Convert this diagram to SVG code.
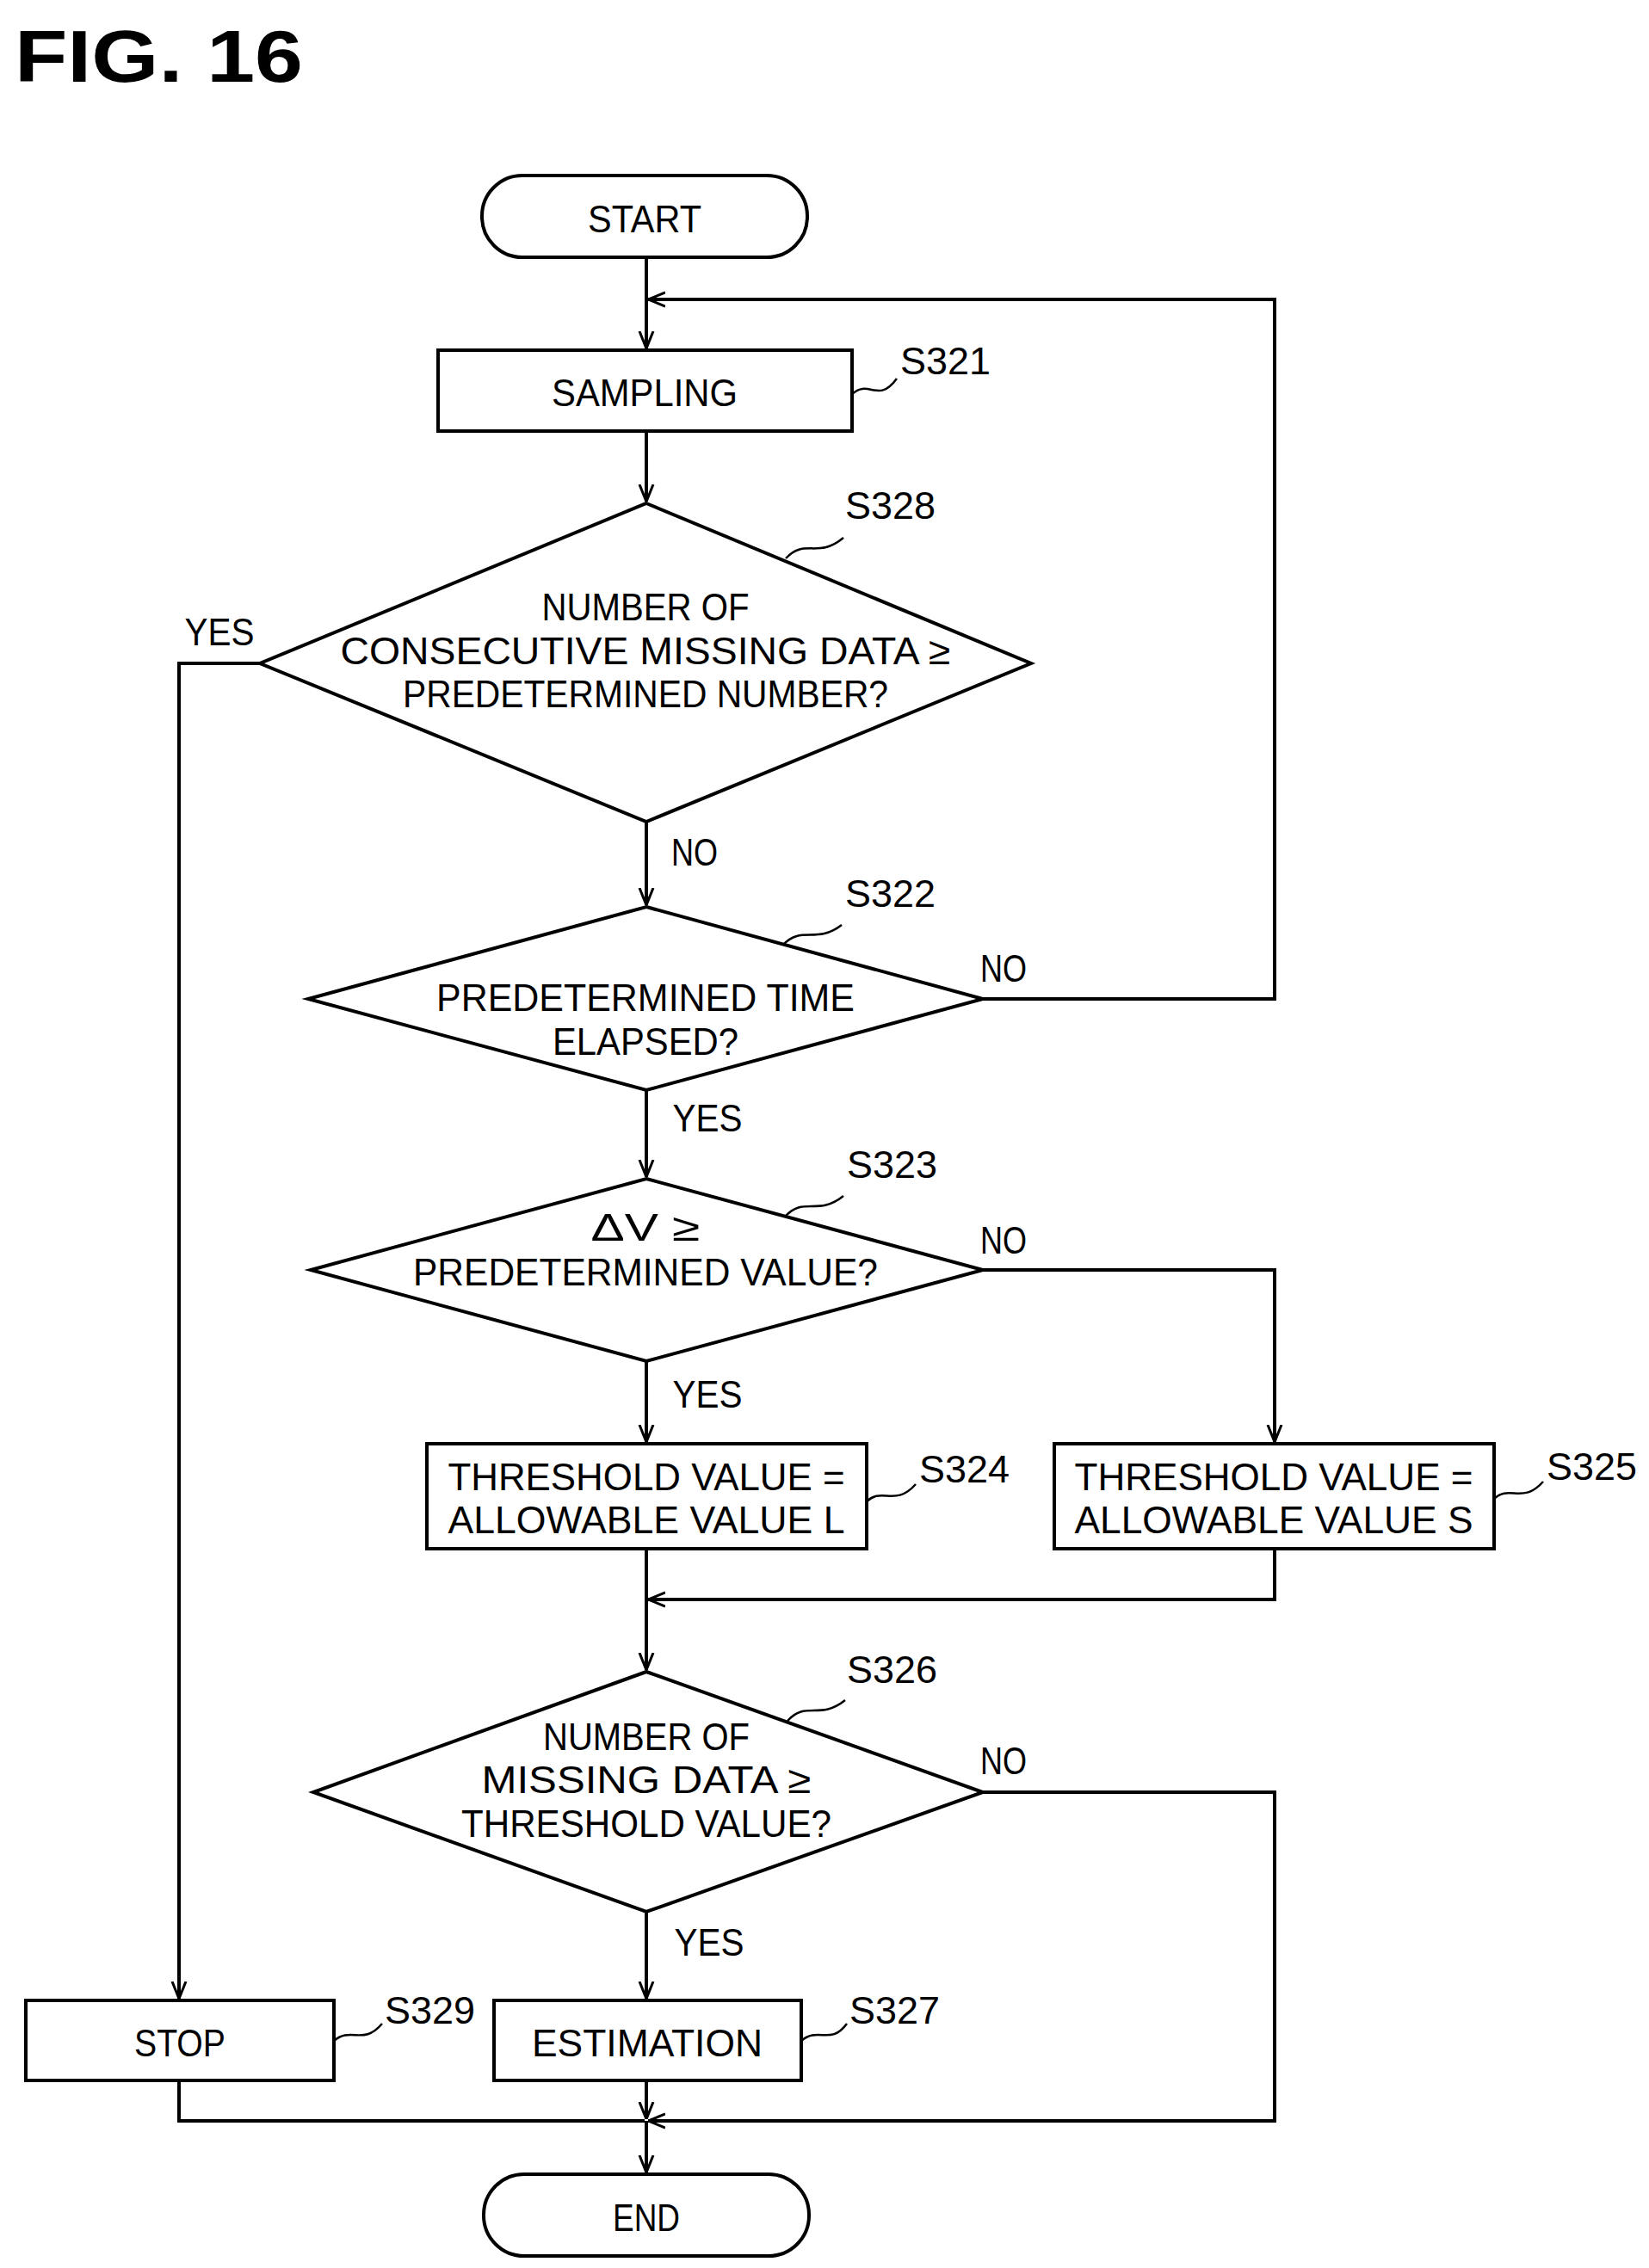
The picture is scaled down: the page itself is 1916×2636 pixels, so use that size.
<svg xmlns="http://www.w3.org/2000/svg" width="1916" height="2636" viewBox="0 0 1916 2636">
<defs>
<marker id="ah" viewBox="0 0 20 20" refX="20" refY="10" markerWidth="20" markerHeight="20" markerUnits="userSpaceOnUse" orient="auto">
<path d="M0,2 L20,10 L0,18" fill="none" stroke="#000" stroke-width="3"/>
</marker>
<style>
.s{fill:#fff;stroke:#000;stroke-width:4}
.l{fill:none;stroke:#000;stroke-width:4}
.w{fill:none;stroke:#000;stroke-width:2.5}
text{font-family:"Liberation Sans",Arial,sans-serif;font-size:45px;fill:#000;text-anchor:middle;dominant-baseline:central}
.lb{text-anchor:start}
</style>
</defs>
<rect width="1916" height="2636" fill="#fff"/>
<text x="17" y="65" class="lb" style="font-size:86px;font-weight:bold" textLength="335" lengthAdjust="spacingAndGlyphs">FIG. 16</text>

<g id="connectors">
<path class="l" d="M751,299 V405" marker-end="url(#ah)"/>
<path class="l" d="M1142,1161 H1481 V348 H753" marker-end="url(#ah)"/>
<path class="l" d="M751,501 V583" marker-end="url(#ah)"/>
<path class="l" d="M302,771 H208 V2323" marker-end="url(#ah)"/>
<path class="l" d="M751,955 V1052" marker-end="url(#ah)"/>
<path class="l" d="M751,1267 V1368" marker-end="url(#ah)"/>
<path class="l" d="M751,1582 V1676" marker-end="url(#ah)"/>
<path class="l" d="M1142,1476 H1481 V1676" marker-end="url(#ah)"/>
<path class="l" d="M1481,1800 V1859 H753" marker-end="url(#ah)"/>
<path class="l" d="M751,1800 V1941" marker-end="url(#ah)"/>
<path class="l" d="M751,2222 V2323" marker-end="url(#ah)"/>
<path class="l" d="M1142,2083 H1481 V2465 H753" marker-end="url(#ah)"/>
<path class="l" d="M208,2418 V2465 H749"/>
<path class="l" d="M751,2418 V2463" marker-end="url(#ah)"/>
<path class="l" d="M751,2465 V2525" marker-end="url(#ah)"/>
<text x="255" y="734" textLength="81" lengthAdjust="spacingAndGlyphs">YES</text>
<text x="807" y="990" textLength="54" lengthAdjust="spacingAndGlyphs">NO</text>
<text x="1166" y="1125" textLength="54" lengthAdjust="spacingAndGlyphs">NO</text>
<text x="822" y="1299" textLength="81" lengthAdjust="spacingAndGlyphs">YES</text>
<text x="1166" y="1441" textLength="54" lengthAdjust="spacingAndGlyphs">NO</text>
<text x="822" y="1620" textLength="81" lengthAdjust="spacingAndGlyphs">YES</text>
<text x="1166" y="2046" textLength="54" lengthAdjust="spacingAndGlyphs">NO</text>
<text x="824" y="2257" textLength="81" lengthAdjust="spacingAndGlyphs">YES</text>
</g>

<g id="start"><rect class="s" x="560" y="204" width="378" height="95" rx="47"/><text x="749" y="254" textLength="132" lengthAdjust="spacingAndGlyphs">START</text></g>

<g id="s321"><rect class="s" x="509" y="407" width="481" height="94"/><text x="749" y="456" textLength="216" lengthAdjust="spacingAndGlyphs">SAMPLING</text>
<path class="w" d="M990,458 C1010,440 1020,470 1042,440"/><text x="1046" y="419" class="lb" textLength="105" lengthAdjust="spacingAndGlyphs">S321</text></g>

<g id="s328"><polygon class="s" points="751,585 1198,771 751,955 302,771"/>
<text x="750" y="705" textLength="241" lengthAdjust="spacingAndGlyphs">NUMBER OF</text>
<text x="750" y="756" textLength="709" lengthAdjust="spacingAndGlyphs">CONSECUTIVE MISSING DATA ≥</text>
<text x="750" y="806" textLength="564" lengthAdjust="spacingAndGlyphs">PREDETERMINED NUMBER?</text>
<path class="w" d="M913,649 C935,625 950,650 980,625"/><text x="982" y="587" class="lb" textLength="105" lengthAdjust="spacingAndGlyphs">S328</text></g>

<g id="s322"><polygon class="s" points="751,1054 1142,1161 751,1267 358,1161"/>
<text x="750" y="1159" textLength="486" lengthAdjust="spacingAndGlyphs">PREDETERMINED TIME</text>
<text x="750" y="1210" textLength="216" lengthAdjust="spacingAndGlyphs">ELAPSED?</text>
<path class="w" d="M910,1098 C932,1075 948,1098 978,1075"/><text x="982" y="1038" class="lb" textLength="105" lengthAdjust="spacingAndGlyphs">S322</text></g>

<g id="s323"><polygon class="s" points="751,1370 1142,1476 751,1582 361,1476"/>
<text x="750" y="1426" textLength="127" lengthAdjust="spacingAndGlyphs">ΔV ≥</text>
<text x="750" y="1478" textLength="540" lengthAdjust="spacingAndGlyphs">PREDETERMINED VALUE?</text>
<path class="w" d="M912,1414 C934,1390 950,1414 980,1390"/><text x="984" y="1353" class="lb" textLength="105" lengthAdjust="spacingAndGlyphs">S323</text></g>

<g id="s324"><rect class="s" x="496" y="1678" width="511" height="122"/>
<text x="751" y="1716" textLength="461" lengthAdjust="spacingAndGlyphs">THRESHOLD VALUE =</text>
<text x="751" y="1766" textLength="461" lengthAdjust="spacingAndGlyphs">ALLOWABLE VALUE L</text>
<path class="w" d="M1007,1745 C1025,1728 1040,1752 1064,1725"/><text x="1068" y="1707" class="lb" textLength="105" lengthAdjust="spacingAndGlyphs">S324</text></g>

<g id="s325"><rect class="s" x="1225" y="1678" width="511" height="122"/>
<text x="1480" y="1716" textLength="463" lengthAdjust="spacingAndGlyphs">THRESHOLD VALUE =</text>
<text x="1480" y="1766" textLength="463" lengthAdjust="spacingAndGlyphs">ALLOWABLE VALUE S</text>
<path class="w" d="M1736,1742 C1754,1725 1769,1749 1793,1722"/><text x="1797" y="1704" class="lb" textLength="105" lengthAdjust="spacingAndGlyphs">S325</text></g>

<g id="s326"><polygon class="s" points="751,1943 1142,2083 751,2222 364,2083"/>
<text x="751" y="2018" textLength="240" lengthAdjust="spacingAndGlyphs">NUMBER OF</text>
<text x="751" y="2068" textLength="383" lengthAdjust="spacingAndGlyphs">MISSING DATA ≥</text>
<text x="751" y="2119" textLength="430" lengthAdjust="spacingAndGlyphs">THRESHOLD VALUE?</text>
<path class="w" d="M915,2000 C937,1976 952,2000 982,1976"/><text x="984" y="1940" class="lb" textLength="105" lengthAdjust="spacingAndGlyphs">S326</text></g>

<g id="s329"><rect class="s" x="30" y="2325" width="358" height="93"/><text x="209" y="2374" textLength="106" lengthAdjust="spacingAndGlyphs">STOP</text>
<path class="w" d="M388,2372 C408,2355 422,2378 444,2352"/><text x="447" y="2336" class="lb" textLength="105" lengthAdjust="spacingAndGlyphs">S329</text></g>

<g id="s327"><rect class="s" x="574" y="2325" width="357" height="93"/><text x="752" y="2374" textLength="268" lengthAdjust="spacingAndGlyphs">ESTIMATION</text>
<path class="w" d="M931,2372 C951,2355 965,2378 984,2352"/><text x="987" y="2336" class="lb" textLength="105" lengthAdjust="spacingAndGlyphs">S327</text></g>

<g id="end"><rect class="s" x="562" y="2527" width="378" height="95" rx="47"/><text x="751" y="2577" textLength="78" lengthAdjust="spacingAndGlyphs">END</text></g>
</svg>
